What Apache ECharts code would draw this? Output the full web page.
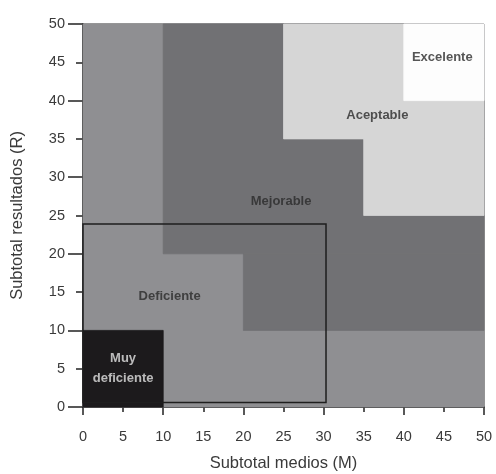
<!DOCTYPE html>
<html>
<head>
<meta charset="utf-8">
<script src="https://cdn.jsdelivr.net/npm/echarts@6/dist/echarts.min.js"></script>
<style>html,body{margin:0;padding:0;background:#fff}#c{width:496px;height:474px}</style>
</head>
<body>
<div id="c"></div>
<script>
// Zone categories
const zoneNames = ['Muy deficiente', 'Deficiente', 'Mejorable', 'Aceptable', 'Excelente'];
// Zone rectangles: [M from, R from, M to, R to, zone index]
const zoneRects = [
  [0, 0, 50, 50, 1],
  [10, 20, 50, 50, 2],
  [20, 10, 50, 20, 2],
  [25, 35, 50, 50, 3],
  [35, 25, 50, 35, 3],
  [40, 40, 50, 50, 4],
  [0, 0, 10, 10, 0]
];
// Zone label anchors [M, R, zone index]
const zoneLabels = [
  [5.0, 5.0, 0],
  [10.8, 14.5, 1],
  [24.7, 26.9, 2],
  [36.7, 38.0, 3],
  [44.8, 45.6, 4]
];
// Outlined region [M from, R from, M to, R to]
const outlineRect = [[0, 0.6, 30.3, 23.9]];
// Axis ticks
const xTicks = [0, 5, 10, 15, 20, 25, 30, 35, 40, 45, 50];
const yTicks = [0, 5, 10, 15, 20, 25, 30, 35, 40, 45, 50];

const zoneColors = ['#1c1a1c', '#8f8f92', '#717174', '#d6d6d6', '#fdfdfd'];
const labelColors = ['#e4e4e4', '#2a2a2a', '#2a2a2a', '#2a2a2a', '#2a2a2a'];
const font = 'Liberation Sans, Arial, sans-serif';

const chart = echarts.init(document.getElementById('c'));

function rectItem(params, api) {
  const p0 = api.coord([api.value(0), api.value(1)]);
  const p1 = api.coord([api.value(2), api.value(3)]);
  const c = zoneColors[api.value(4)];
  return {
    type: 'rect',
    shape: { x: Math.min(p0[0], p1[0]), y: Math.min(p0[1], p1[1]), width: Math.abs(p1[0] - p0[0]), height: Math.abs(p1[1] - p0[1]) },
    style: { fill: c, stroke: c, lineWidth: 0.8 }
  };
}
function outlineItem(params, api) {
  const p0 = api.coord([api.value(0), api.value(1)]);
  const p1 = api.coord([api.value(2), api.value(3)]);
  return {
    type: 'rect',
    shape: { x: Math.min(p0[0], p1[0]), y: Math.min(p0[1], p1[1]), width: Math.abs(p1[0] - p0[0]), height: Math.abs(p1[1] - p0[1]) },
    style: { fill: 'none', stroke: '#1e1e1e', lineWidth: 1.5 }
  };
}

const axisLabelStyle = { color: '#3a3a3a', fontSize: 14.5, fontFamily: font };
const axisNameStyle = { color: '#3a3a3a', fontSize: 16.5, fontFamily: font };

chart.setOption({
  animation: false,
  grid: { left: 83, top: 24, right: 12, bottom: 67, containLabel: false, outerBoundsMode: 'none', show: true, borderColor: '#333', borderWidth: 1, backgroundColor: 'transparent' },
  xAxis: [
    {
      type: 'value', min: xTicks[0], max: xTicks[xTicks.length - 1], interval: xTicks[1] - xTicks[0],
      name: 'Subtotal medios (M)', nameLocation: 'middle', nameGap: 48, nameTextStyle: axisNameStyle,
      axisLine: { show: true, onZero: false, lineStyle: { color: '#222', width: 1.5 } },
      axisTick: { show: true, length: 5, lineStyle: { color: '#222', width: 1.5 } },
      axisLabel: Object.assign({ margin: 22 }, axisLabelStyle),
      splitLine: { show: false }
    },
    {
      type: 'value', min: 0, max: 50, interval: 10, position: 'bottom',
      axisLine: { show: false }, axisLabel: { show: false },
      axisTick: { show: true, length: 8, lineStyle: { color: '#222', width: 1.5 } },
      splitLine: { show: false }
    }
  ],
  yAxis: [
    {
      type: 'value', min: yTicks[0], max: yTicks[yTicks.length - 1], interval: yTicks[1] - yTicks[0],
      name: 'Subtotal resultados (R)', nameLocation: 'middle', nameGap: 57, nameTextStyle: axisNameStyle,
      axisLine: { show: true, onZero: false, lineStyle: { color: '#222', width: 1.5 } },
      axisTick: { show: true, length: 7, lineStyle: { color: '#222', width: 1.5 } },
      axisLabel: Object.assign({ margin: 18 }, axisLabelStyle),
      splitLine: { show: false }
    },
    {
      type: 'value', min: 0, max: 50, interval: 10, position: 'left',
      axisLine: { show: false }, axisLabel: { show: false },
      axisTick: { show: true, length: 15, lineStyle: { color: '#222', width: 1.5 } },
      splitLine: { show: false }
    }
  ],
  series: [
    { type: 'custom', renderItem: rectItem, data: zoneRects, z: 1, silent: true },
    { type: 'custom', renderItem: outlineItem, data: outlineRect, z: 3, silent: true },
    {
      type: 'scatter', symbolSize: 0, z: 4, silent: true,
      data: zoneLabels.map(d => ({
        value: [d[0], d[1]],
        label: {
          show: true, position: 'inside',
          formatter: d[2] === 0 ? 'Muy\ndeficiente' : zoneNames[d[2]],
          color: labelColors[d[2]], fontSize: 13, fontWeight: 'bold', fontFamily: font, lineHeight: 20
        }
      }))
    }
  ]
});
</script>
</body>
</html>
